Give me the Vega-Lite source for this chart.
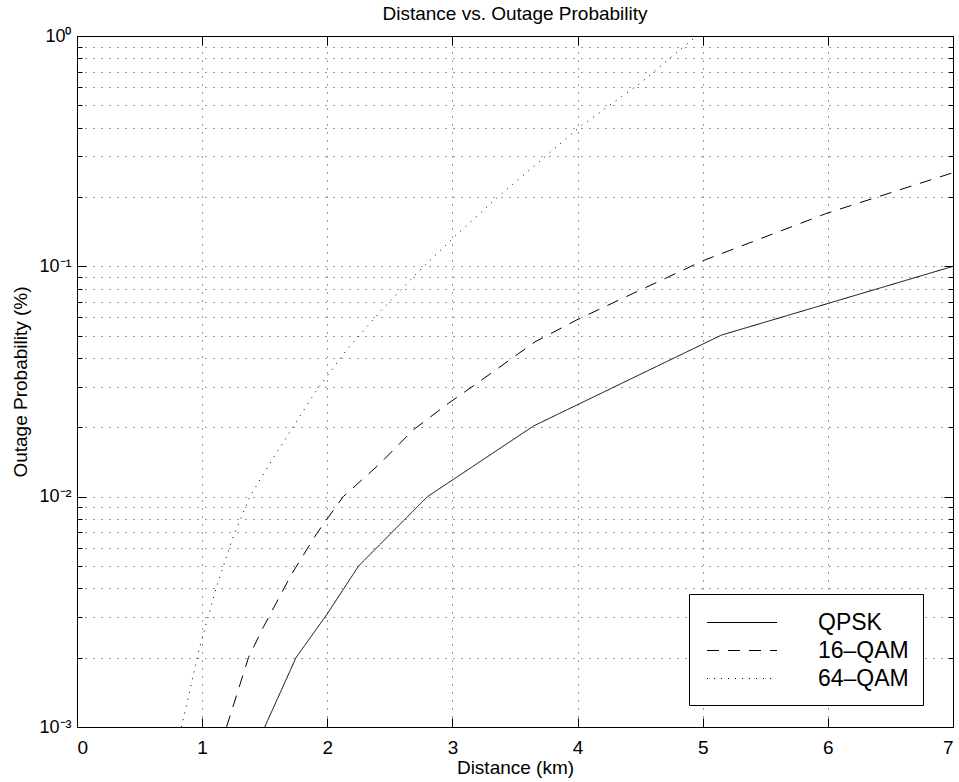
{
  "$schema": "https://vega.github.io/schema/vega-lite/v6.json",
  "autosize": {"type": "none"},
  "padding": {"left": 77, "top": 36, "right": 6, "bottom": 55},
  "width": 876,
  "height": 691,
  "background": "white",
  "title": {"text": "Distance vs. Outage Probability", "fontSize": 19, "font": "Liberation Sans", "fontWeight": "normal", "color": "black", "anchor": "middle", "offset": 3},
  "config": {
    "view": {"stroke": "black", "strokeWidth": 1},
    "font": "Liberation Sans"
  },
  "data": {"values": [
    {"d": 1.5, "p": 0.001, "m": "QPSK"},
    {"d": 1.75, "p": 0.002, "m": "QPSK"},
    {"d": 2.0, "p": 0.0031, "m": "QPSK"},
    {"d": 2.25, "p": 0.005, "m": "QPSK"},
    {"d": 2.8, "p": 0.01, "m": "QPSK"},
    {"d": 3.65, "p": 0.0203, "m": "QPSK"},
    {"d": 5.15, "p": 0.0503, "m": "QPSK"},
    {"d": 7.0, "p": 0.1, "m": "QPSK"},
    {"d": 1.195, "p": 0.001, "m": "16–QAM"},
    {"d": 1.37, "p": 0.002, "m": "16–QAM"},
    {"d": 1.487, "p": 0.0027, "m": "16–QAM"},
    {"d": 1.714, "p": 0.0046, "m": "16–QAM"},
    {"d": 1.914, "p": 0.0069, "m": "16–QAM"},
    {"d": 2.127, "p": 0.01, "m": "16–QAM"},
    {"d": 2.42, "p": 0.0139, "m": "16–QAM"},
    {"d": 2.687, "p": 0.0195, "m": "16–QAM"},
    {"d": 2.967, "p": 0.0254, "m": "16–QAM"},
    {"d": 3.194, "p": 0.031, "m": "16–QAM"},
    {"d": 3.66, "p": 0.047, "m": "16–QAM"},
    {"d": 3.993, "p": 0.0585, "m": "16–QAM"},
    {"d": 4.326, "p": 0.0712, "m": "16–QAM"},
    {"d": 5.006, "p": 0.106, "m": "16–QAM"},
    {"d": 5.992, "p": 0.17, "m": "16–QAM"},
    {"d": 7.0, "p": 0.255, "m": "16–QAM"},
    {"d": 0.835, "p": 0.001, "m": "64–QAM"},
    {"d": 0.981, "p": 0.00223, "m": "64–QAM"},
    {"d": 1.115, "p": 0.00406, "m": "64–QAM"},
    {"d": 1.248, "p": 0.0067, "m": "64–QAM"},
    {"d": 1.381, "p": 0.01, "m": "64–QAM"},
    {"d": 1.567, "p": 0.0147, "m": "64–QAM"},
    {"d": 1.727, "p": 0.0201, "m": "64–QAM"},
    {"d": 1.914, "p": 0.029, "m": "64–QAM"},
    {"d": 2.154, "p": 0.0433, "m": "64–QAM"},
    {"d": 2.434, "p": 0.0646, "m": "64–QAM"},
    {"d": 2.727, "p": 0.0948, "m": "64–QAM"},
    {"d": 3.033, "p": 0.137, "m": "64–QAM"},
    {"d": 3.34, "p": 0.195, "m": "64–QAM"},
    {"d": 4.02, "p": 0.404, "m": "64–QAM"},
    {"d": 4.5, "p": 0.623, "m": "64–QAM"},
    {"d": 4.95, "p": 1.0, "m": "64–QAM"}
  ]},
  "layer": [
    {
      "mark": {"type": "line", "color": "black", "strokeWidth": 1, "clip": true},
      "encoding": {
        "x": {"field": "d", "type": "quantitative",
          "scale": {"domain": [0, 7], "nice": false, "zero": false},
          "axis": {"orient": "bottom", "title": "Distance (km)", "values": [0,1,2,3,4,5,6,7],
            "grid": true, "gridColor": "black", "gridDash": [1, 7], "gridOpacity": 0.8,
            "domainColor": "black", "tickColor": "black", "tickSize": -9,
            "labelFontSize": 19, "labelColor": "black", "labelPadding": 20,
            "titleFontSize": 19, "titleFontWeight": "normal", "titleColor": "black", "titlePadding": 1}},
        "y": {"field": "p", "type": "quantitative",
          "scale": {"type": "log", "domain": [0.001, 1], "nice": false},
          "axis": {"orient": "left", "title": "Outage Probability (%)",
            "values": [0.001,0.002,0.003,0.004,0.005,0.006,0.007,0.008,0.009,0.01,0.02,0.03,0.04,0.05,0.06,0.07,0.08,0.09,0.1,0.2,0.3,0.4,0.5,0.6,0.7,0.8,0.9,1],
            "labelExpr": "datum.value == 1 ? '10⁰' : datum.value == 0.1 ? '10⁻¹' : datum.value == 0.01 ? '10⁻²' : datum.value == 0.001 ? '10⁻³' : ''",
            "grid": true, "gridColor": "black", "gridDash": [1, 7], "gridOpacity": 0.8,
            "domainColor": "black", "tickColor": "black",
            "tickSize": {"condition": {"test": "datum.value == 1 || datum.value == 0.1 || datum.value == 0.01 || datum.value == 0.001", "value": -9}, "value": -5},
            "labelFontSize": 18, "labelColor": "black", "labelPadding": 15,
            "titleFontSize": 19, "titleFontWeight": "normal", "titleColor": "black", "titlePadding": 8}},
        "strokeDash": {"field": "m", "type": "nominal",
          "scale": {"domain": ["QPSK", "16–QAM", "64–QAM"], "range": [[1, 0], [12, 9], [1, 6]]},
          "legend": {"orient": "none", "legendX": 612, "legendY": 558, "title": null,
            "symbolType": "M-0.75,0H4.25", "symbolSize": 784, "symbolStrokeWidth": 1, "symbolStrokeColor": "black", "symbolFillColor": "transparent",
            "labelFontSize": 23, "labelColor": "black", "labelOffset": 86,
            "strokeColor": "black", "fillColor": "white", "padding": 14, "rowPadding": 1}}
      }
    },
    {
      "mark": {"type": "line", "opacity": 0},
      "encoding": {
        "detail": {"field": "m"},
        "x": {"field": "d", "type": "quantitative",
          "scale": {"domain": [0, 7], "nice": false, "zero": false},
          "axis": {"orient": "top", "title": null, "labels": false, "grid": false, "values": [0,1,2,3,4,5,6,7],
            "domainColor": "black", "tickColor": "black", "tickSize": -9}},
        "y": {"field": "p", "type": "quantitative",
          "scale": {"type": "log", "domain": [0.001, 1], "nice": false},
          "axis": {"orient": "right", "title": null, "labels": false, "grid": false,
            "values": [0.001,0.002,0.003,0.004,0.005,0.006,0.007,0.008,0.009,0.01,0.02,0.03,0.04,0.05,0.06,0.07,0.08,0.09,0.1,0.2,0.3,0.4,0.5,0.6,0.7,0.8,0.9,1],
            "domainColor": "black", "tickColor": "black",
            "tickSize": {"condition": {"test": "datum.value == 1 || datum.value == 0.1 || datum.value == 0.01 || datum.value == 0.001", "value": -9}, "value": -5}}}
      }
    }
  ],
  "resolve": {"axis": {"x": "independent", "y": "independent"}}
}
